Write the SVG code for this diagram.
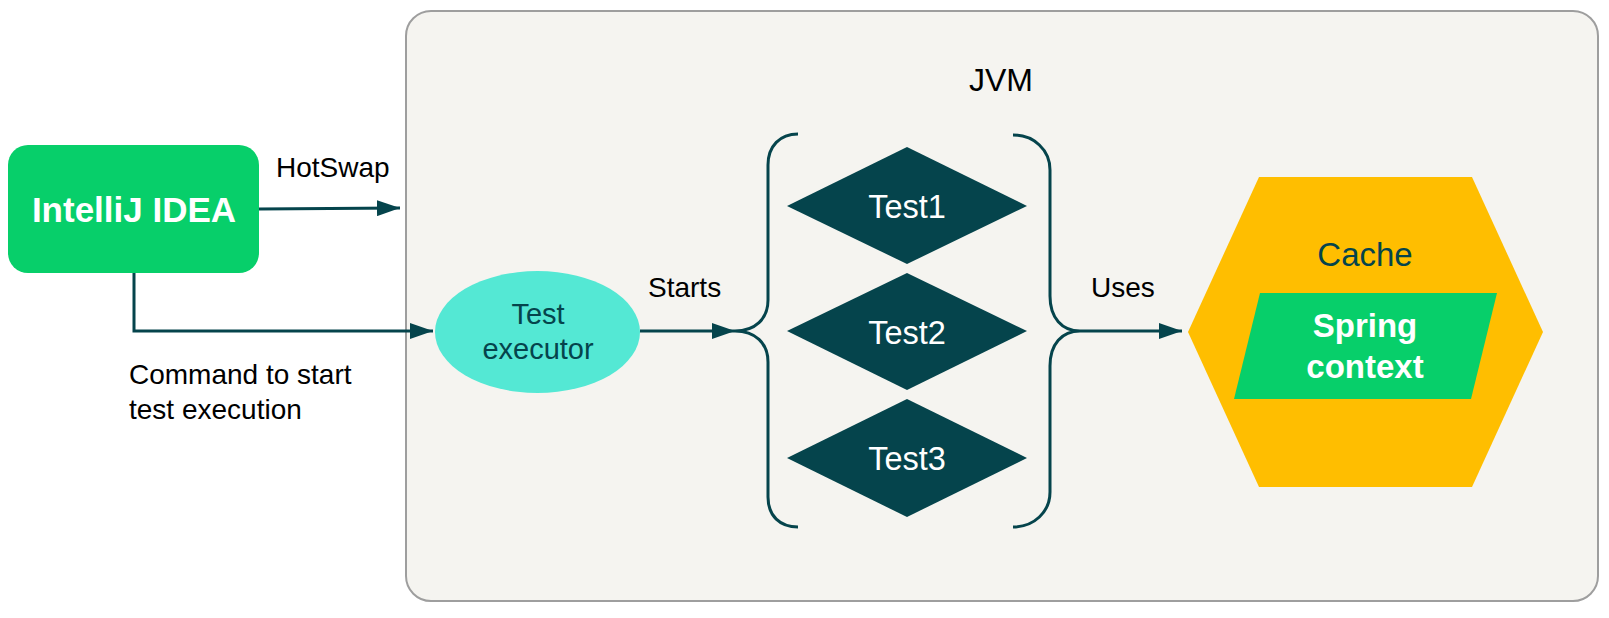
<svg xmlns="http://www.w3.org/2000/svg" width="1609" height="618" viewBox="0 0 1609 618">
  <defs>
    <style>
      .lbl { font-family: "Liberation Sans", Arial, sans-serif; font-size: 28px; fill: #000; }
      .conn { fill: none; stroke: #05444C; stroke-width: 3; }
      .dia { fill: #05444C; }
      .dtxt { font-family: "Liberation Sans", Arial, sans-serif; font-size: 32.5px; fill: #fff; text-anchor: middle; }
      .bold { font-family: "Liberation Sans", Arial, sans-serif; font-weight: bold; fill: #fff; text-anchor: middle; }
    </style>
    <marker id="arr" markerUnits="userSpaceOnUse" markerWidth="23" markerHeight="16" refX="23" refY="8" orient="auto">
      <path d="M0,0 L23,8 L0,16 z" fill="#05444C"/>
    </marker>
  </defs>
  <rect width="1609" height="618" fill="#ffffff"/>

  <g id="jvm">
    <rect x="406" y="11" width="1192" height="590" rx="25" ry="25" fill="#F5F4F0" stroke="#9E9E9E" stroke-width="2"/>
    <text x="1001" y="91" class="lbl" style="font-size:32px" text-anchor="middle">JVM</text>
  </g>

  <g id="intellij">
    <rect x="8" y="145" width="251" height="128" rx="20" ry="20" fill="#07CF6A"/>
    <text x="134" y="222" class="bold" style="font-size:35px">IntelliJ IDEA</text>
  </g>

  <g id="executor">
    <ellipse cx="537.5" cy="332" rx="102.5" ry="61" fill="#54E8D4"/>
    <text x="538" y="324" style="font-family:'Liberation Sans', Arial, sans-serif;font-size:29px;fill:#05444C" text-anchor="middle">Test</text>
    <text x="538" y="359" style="font-family:'Liberation Sans', Arial, sans-serif;font-size:29px;fill:#05444C" text-anchor="middle">executor</text>
  </g>

  <g id="test1">
    <polygon class="dia" points="787,206 907,147 1027,206 907,264"/>
    <text x="907" y="218" class="dtxt">Test1</text>
  </g>
  <g id="test2">
    <polygon class="dia" points="787,331 907,273 1027,331 907,390"/>
    <text x="907" y="344" class="dtxt">Test2</text>
  </g>
  <g id="test3">
    <polygon class="dia" points="787,458 907,399 1027,458 907,517"/>
    <text x="907" y="470" class="dtxt">Test3</text>
  </g>

  <g id="cache">
    <polygon points="1188,332 1259,177 1472,177 1543,332 1472,487 1259,487" fill="#FFBE00"/>
    <text x="1365" y="266" style="font-family:'Liberation Sans', Arial, sans-serif;font-size:33px;fill:#05444C" text-anchor="middle">Cache</text>
  </g>

  <g id="spring">
    <polygon points="1260,293 1497,293 1471,399 1234,399" fill="#07CF6A"/>
    <text x="1365" y="337" class="bold" style="font-size:33px">Spring</text>
    <text x="1365" y="378" class="bold" style="font-size:33px">context</text>
  </g>

  <g id="connectors">
    <path class="conn" d="M798,134 C780,134 768,146 768,165 L768,300 C768,319 755,331 735,331 C755,331 768,343 768,362 L768,497 C768,516 780,527 798,527"/>
    <path class="conn" d="M1013,135 C1034,135 1050,150 1050,170 L1050,296 C1050,318 1062,331 1080,331 C1062,331 1050,344 1050,366 L1050,492 C1050,512 1034,527 1013,527"/>
    <path class="conn" d="M259,209 L400,208" marker-end="url(#arr)"/>
    <path class="conn" d="M134,273 L134,331 L433,331" marker-end="url(#arr)"/>
    <path class="conn" d="M640,331 L735,331" marker-end="url(#arr)"/>
    <path class="conn" d="M1080,331 L1182,331" marker-end="url(#arr)"/>
  </g>

  <g id="labels">
    <text x="276" y="177" class="lbl">HotSwap</text>
    <text x="129" y="384" class="lbl">Command to start</text>
    <text x="129" y="419" class="lbl">test execution</text>
    <text x="648" y="297" class="lbl">Starts</text>
    <text x="1091" y="297" class="lbl">Uses</text>
  </g>
</svg>
